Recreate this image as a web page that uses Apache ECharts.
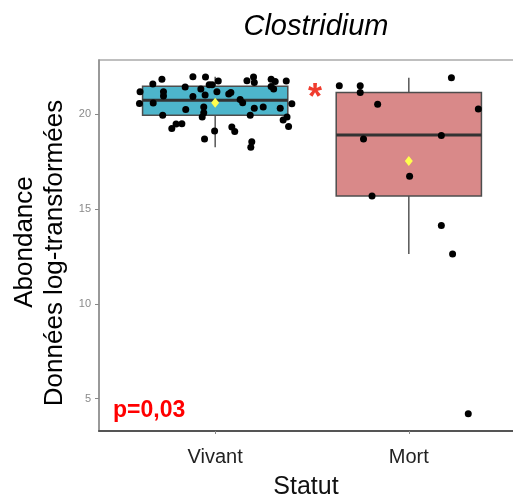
<!DOCTYPE html>
<html><head><meta charset="utf-8">
<script src="https://cdn.jsdelivr.net/npm/echarts@6/dist/echarts.min.js"></script>
<style>html,body{margin:0;padding:0;background:#fff}#c{width:513px;height:497px}</style>
</head><body><div id="c"></div>
<script>
const categories = ['Vivant', 'Mort'];
const yTicks = [5, 10, 15, 20];
// boxplot stats: [min, Q1, median, Q3, max]
const boxVivant = [18.27, 19.96, 20.75, 21.49, 21.99];
const boxMort = [12.63, 15.69, 18.91, 21.16, 21.93];
const meanValues = [20.61, 17.54];
// jittered observations
const vivantX = [0.725,0.678,0.885,0.950,0.969,0.984,1.016,1.164,1.198,1.202,1.289,1.310,1.367,1.289,1.302,0.612,0.609,0.680,0.733,0.733,0.845,0.885,0.926,0.948,1.009,1.070,1.081,1.129,1.142,1.202,1.248,1.336,1.396,0.848,0.941,0.941,0.933,0.729,1.181,1.351,1.371,1.379,0.776,0.798,0.828,0.997,1.086,1.101,0.945,1.189,1.184];
const vivantY = [21.86,21.60,21.99,21.97,21.57,21.57,21.76,21.77,21.97,21.68,21.86,21.73,21.76,21.47,21.34,21.19,20.58,20.60,21.19,20.97,21.44,20.95,21.34,21.02,21.20,21.07,21.15,20.78,20.61,20.32,20.39,20.32,20.56,20.26,20.39,20.09,19.86,19.96,19.96,19.70,19.86,19.36,19.25,19.49,19.51,19.12,19.33,19.09,18.70,18.56,18.27];
const mortX = [1.641,1.749,1.749,1.839,2.220,2.359,1.766,2.168,2.004,1.810,2.168,2.226,2.307];
const mortY = [21.51,21.51,21.16,20.53,21.93,20.28,18.70,18.89,16.74,15.69,14.14,12.63,4.20];

const boxColors = ['#4db5cb', '#d98989'];
const boxData = [[1].concat(boxVivant), [2].concat(boxMort)];
const pts = vivantX.map((x, i) => [x, vivantY[i]]).concat(mortX.map((x, i) => [x, mortY[i]]));
const means = meanValues.map((m, i) => [i + 1, m]);

const chart = echarts.init(document.getElementById('c'), null, {renderer: 'canvas'});
const FONT = 'Liberation Sans, Arial, sans-serif';
chart.setOption({
  animation: false,
  backgroundColor: '#fff',
  grid: {left: 99, right: -12, top: 60, bottom: 66, show: true, borderColor: '#aaa', borderWidth: 1.5, outerBoundsMode: 'none', containLabel: false},
  xAxis: {
    type: 'value', min: 0.4, max: 2.6,
    splitLine: {show: false},
    axisLine: {show: true, lineStyle: {color: '#555', width: 2}},
    axisTick: {show: true, customValues: [1, 2], length: 3, lineStyle: {color: '#888'}},
    axisLabel: {show: true, customValues: [1, 2], formatter: v => categories[Math.round(v) - 1], color: '#222', fontSize: 20, fontFamily: FONT, margin: 16}
  },
  yAxis: {
    type: 'value', min: 3.29, max: 22.87,
    splitLine: {show: false},
    axisLine: {show: true, lineStyle: {color: '#8c8c8c', width: 1.5}},
    axisTick: {show: true, customValues: yTicks, length: 4, lineStyle: {color: '#888'}},
    axisLabel: {show: true, customValues: yTicks, color: '#8a8a8a', fontSize: 11, fontFamily: FONT, margin: 8}
  },
  series: [
    {
      type: 'custom', z: 1,
      data: boxData,
      encode: {x: 0, y: [1, 2, 3, 4, 5]},
      renderItem: function (params, api) {
        const x = api.value(0);
        const pMin = api.coord([x, api.value(1)]);
        const pQ1 = api.coord([x, api.value(2)]);
        const pMed = api.coord([x, api.value(3)]);
        const pQ3 = api.coord([x, api.value(4)]);
        const pMax = api.coord([x, api.value(5)]);
        const half = api.size([0.75, 0])[0] / 2;
        const col = boxColors[params.dataIndex];
        return {
          type: 'group',
          children: [
            {type: 'line', shape: {x1: pMax[0], y1: pMax[1], x2: pQ3[0], y2: pQ3[1]}, style: {stroke: '#555', lineWidth: 1.5}},
            {type: 'line', shape: {x1: pMin[0], y1: pMin[1], x2: pQ1[0], y2: pQ1[1]}, style: {stroke: '#555', lineWidth: 1.5}},
            {type: 'rect', shape: {x: pQ3[0] - half, y: pQ3[1], width: 2 * half, height: pQ1[1] - pQ3[1]}, style: {fill: col, stroke: '#4d4d4d', lineWidth: 1.5}},
            {type: 'line', shape: {x1: pMed[0] - half, y1: pMed[1], x2: pMed[0] + half, y2: pMed[1]}, style: {stroke: '#333', lineWidth: 3}}
          ]
        };
      }
    },
    {
      type: 'scatter', z: 3, data: pts, symbol: 'circle', symbolSize: 7,
      itemStyle: {color: '#000', opacity: 1}
    },
    {
      type: 'scatter', z: 4, data: means, symbol: 'diamond', symbolSize: [8, 10],
      itemStyle: {color: '#ffff4d', opacity: 1}
    }
  ],
  graphic: [
    {type: 'text', x: 316, y: 27, z: 10, style: {text: 'Clostridium', font: 'italic 29px ' + FONT, fill: '#000', textAlign: 'center', textVerticalAlign: 'middle'}},
    {type: 'text', x: 306, y: 487, z: 10, style: {text: 'Statut', font: '25px ' + FONT, fill: '#111', textAlign: 'center', textVerticalAlign: 'middle'}},
    {type: 'text', x: 25, y: 242, rotation: Math.PI / 2, z: 10, style: {text: 'Abondance', font: '26px ' + FONT, fill: '#000', textAlign: 'center', textVerticalAlign: 'middle'}},
    {type: 'text', x: 55, y: 253, rotation: Math.PI / 2, z: 10, style: {text: 'Données log-transformées', font: '26px ' + FONT, fill: '#000', textAlign: 'center', textVerticalAlign: 'middle'}},
    {type: 'text', x: 113, y: 411, z: 10, style: {text: 'p=0,03', font: 'bold 23px ' + FONT, fill: '#ff0000', textAlign: 'left', textVerticalAlign: 'middle'}},
    {type: 'text', x: 315, y: 99, z: 10, style: {text: '*', font: 'bold 36px ' + FONT, fill: '#f03c2e', textAlign: 'center', textVerticalAlign: 'middle'}}
  ]
});
</script></body></html>
